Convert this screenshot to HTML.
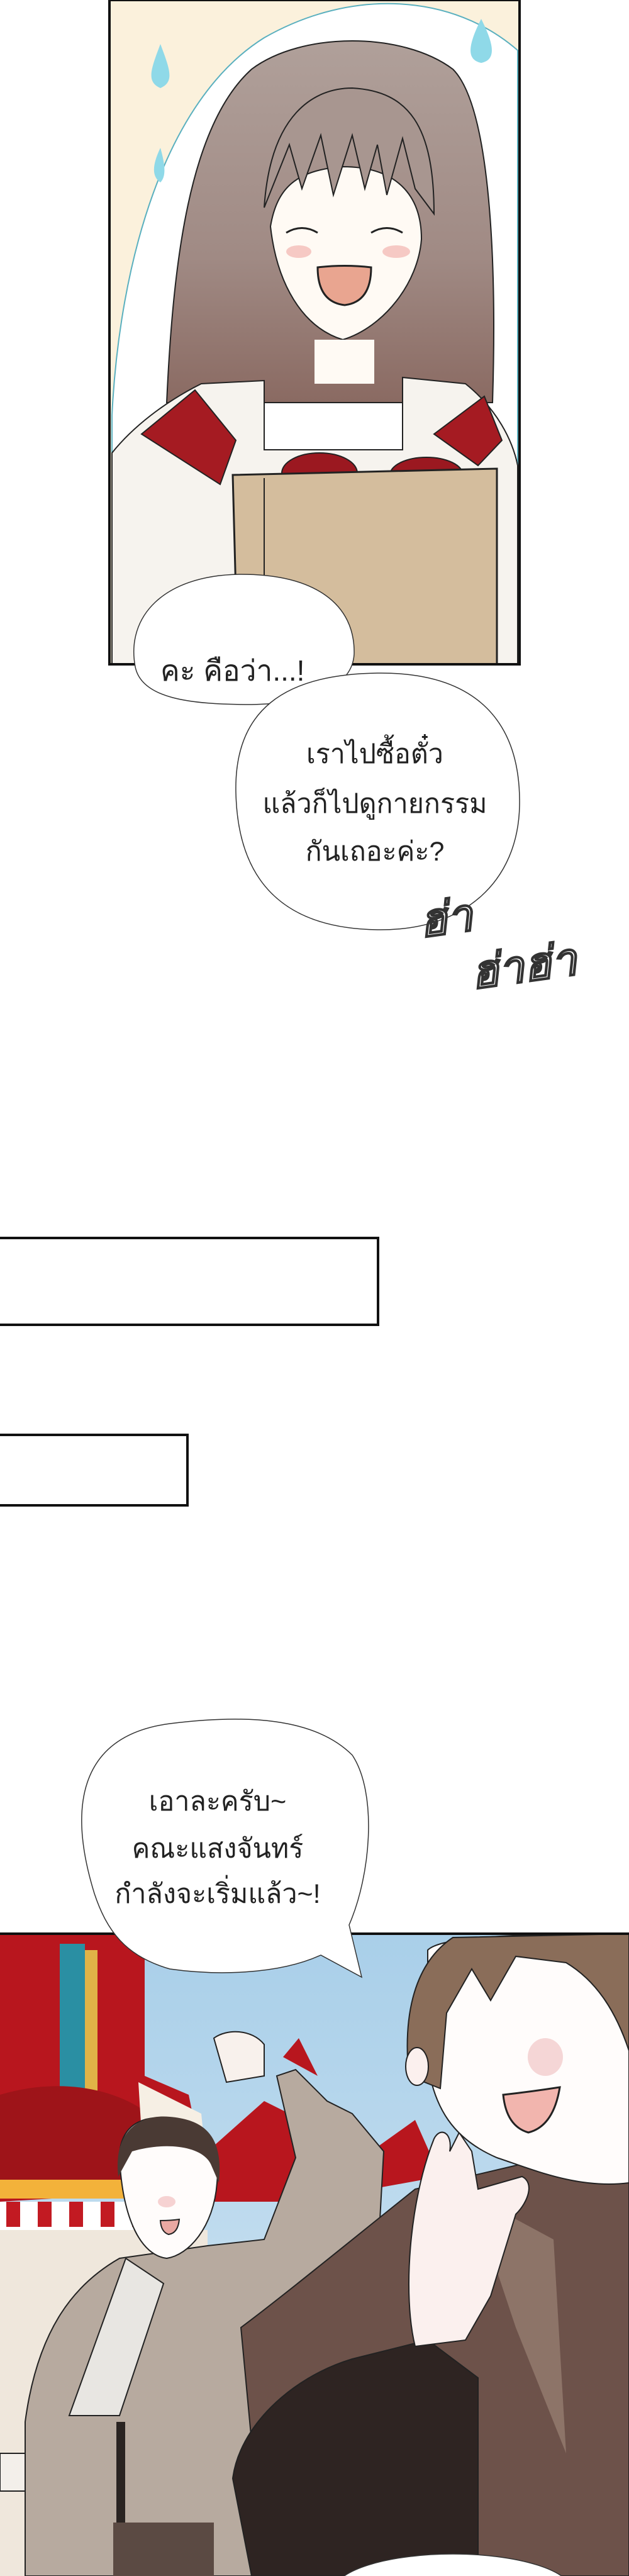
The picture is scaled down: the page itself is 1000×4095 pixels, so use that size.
<!DOCTYPE html>
<html><head><meta charset="utf-8">
<style>
html,body{margin:0;padding:0;background:#fff;}
body{width:1000px;height:4095px;position:relative;overflow:hidden;font-family:"Liberation Sans","Noto Sans CJK SC",sans-serif;}
svg{position:absolute;left:0;top:0;}
.t{font-family:"Liberation Sans","Noto Sans CJK SC",sans-serif;fill:#222;}
</style></head>
<body>
<svg width="1000" height="4095" viewBox="0 0 1000 4095" xmlns="http://www.w3.org/2000/svg">
<defs>
<clipPath id="p1"><rect x="174" y="0" width="652" height="1056"/></clipPath>
<clipPath id="p3"><rect x="0" y="3074" width="1000" height="1021"/></clipPath>
<linearGradient id="hairg" x1="0" y1="0" x2="0" y2="1"><stop offset="0" stop-color="#b0a09a"/><stop offset="0.6" stop-color="#a08a84"/><stop offset="1" stop-color="#8a6a62"/></linearGradient>
<linearGradient id="sky" x1="0" y1="0" x2="0" y2="1"><stop offset="0" stop-color="#a9cfe9"/><stop offset="1" stop-color="#d8e9f4"/></linearGradient>
</defs>
<g clip-path="url(#p1)">
<rect x="174" y="0" width="652" height="1056" fill="#fbf1dc"/>
<path d="M178 660 C190 420 260 160 420 60 C560 -20 720 -10 823 80 L823 1056 L178 1056 Z" fill="#fff" stroke="#5ab0bf" stroke-width="2"/>
<path d="M255 70 C240 110 232 130 255 140 C278 130 270 110 255 70Z" fill="#8fd9e8"/>
<path d="M765 30 C745 70 740 95 765 100 C790 95 785 70 765 30Z" fill="#8fd9e8"/>
<path d="M255 235 C243 260 240 280 255 290 C265 280 262 260 255 235Z" fill="#8fd9e8"/>
<path d="M265 640 C275 420 300 200 400 110 C480 50 640 50 720 110 C780 170 790 420 783 640 Z" fill="url(#hairg)" stroke="#222" stroke-width="2"/>
<path d="M430 360 C440 300 470 270 545 265 C630 265 670 310 670 380 C665 450 610 520 545 540 C480 520 440 450 430 360Z" fill="#fffaf4" stroke="#222" stroke-width="2"/>
<path d="M420 330 C430 180 500 140 560 140 C650 145 690 200 690 340 L660 300 L640 220 L615 310 L600 230 L580 300 L560 215 L530 310 L510 215 L480 300 L460 230 Z" fill="#a89690" stroke="#222" stroke-width="2"/>
<path d="M455 370 Q480 355 505 370" stroke="#222" stroke-width="3" fill="none"/>
<path d="M590 370 Q615 355 640 370" stroke="#222" stroke-width="3" fill="none"/>
<ellipse cx="475" cy="400" rx="20" ry="10" fill="#f6c9c4"/>
<ellipse cx="630" cy="400" rx="22" ry="10" fill="#f6c9c4"/>
<path d="M505 425 Q548 420 590 425 Q590 480 548 485 Q505 480 505 425Z" fill="#e9a590" stroke="#222" stroke-width="3"/>
<path d="M500 540 L500 610 L595 610 L595 540 Z" fill="#fffaf4"/>
<path d="M178 1056 L178 720 C210 680 260 640 320 610 L420 605 L420 715 L640 715 L640 600 L740 610 C790 650 815 700 823 740 L823 1056 Z" fill="#f6f3ee" stroke="#222" stroke-width="2"/>
<path d="M225 690 L310 620 L375 700 L350 770 Z" fill="#a51b22" stroke="#222" stroke-width="2"/>
<path d="M690 690 L770 630 L798 700 L760 740 Z" fill="#a51b22" stroke="#222" stroke-width="2"/>
<ellipse cx="508" cy="752" rx="60" ry="32" fill="#9b1820" stroke="#222" stroke-width="2"/>
<ellipse cx="678" cy="755" rx="58" ry="28" fill="#9b1820" stroke="#222" stroke-width="2"/>
<path d="M370 755 L790 745 L790 1056 L378 1056 Z" fill="#d4bd9d" stroke="#222" stroke-width="3"/>
<line x1="420" y1="760" x2="420" y2="1056" stroke="#222" stroke-width="2"/>
</g>
<rect x="174" y="0" width="652" height="1056" fill="none" stroke="#111" stroke-width="4"/>

<path d="M215 1060 C200 980 260 915 380 913 C500 912 565 960 563 1040 C560 1090 500 1118 400 1120 C300 1120 225 1110 215 1060Z" fill="#fff" stroke="#333" stroke-width="1.5"/>
<text class="t" x="255" y="1082" font-size="46">คะ คือว่า...!</text>
<path d="M375 1260 C372 1130 450 1072 600 1070 C760 1068 828 1150 826 1280 C824 1400 740 1480 600 1478 C450 1476 378 1400 375 1260Z" fill="#fff" stroke="#333" stroke-width="1.5"/>
<text class="t" font-size="43" text-anchor="middle"><tspan x="596" y="1213">เราไปซื้อตั๋ว</tspan><tspan x="596" y="1292">แล้วก็ไปดูกายกรรม</tspan><tspan x="596" y="1368">กันเถอะค่ะ?</tspan></text>
<text x="670" y="1490" font-size="72" font-style="italic" font-weight="bold" fill="#fff" stroke="#333" stroke-width="2" transform="rotate(-8 670 1490)" font-family="Liberation Sans, sans-serif">ฮ่า</text>
<text x="752" y="1572" font-size="72" font-style="italic" font-weight="bold" fill="#fff" stroke="#333" stroke-width="2" transform="rotate(-8 752 1572)" font-family="Liberation Sans, sans-serif">ฮ่าฮ่า</text>

<rect x="-4" y="1968" width="605" height="138" fill="#fff" stroke="#111" stroke-width="4"/>
<rect x="-4" y="2281" width="302" height="112" fill="#fff" stroke="#111" stroke-width="4"/>

<g clip-path="url(#p3)">
<rect x="0" y="3074" width="1000" height="1021" fill="url(#sky)"/>
<path d="M0 3074 L230 3074 L230 3300 L300 3330 L330 3480 L0 3500 Z" fill="#b8161e"/>
<rect x="95" y="3090" width="40" height="280" fill="#2a8fa3"/>
<rect x="135" y="3100" width="20" height="300" fill="#e0b347"/>
<path d="M0 3330 C100 3300 200 3320 260 3380 L260 3470 L0 3470 Z" fill="#9e1419"/>
<rect x="0" y="3465" width="260" height="30" fill="#f3b23a"/>
<path d="M0 3500 L300 3500 L300 3545 L0 3545 Z" fill="#fff"/>
<g fill="#c21a22"><rect x="10" y="3500" width="22" height="40"/><rect x="60" y="3500" width="22" height="40"/><rect x="110" y="3500" width="22" height="40"/><rect x="160" y="3500" width="22" height="40"/><rect x="210" y="3500" width="22" height="40"/></g>
<rect x="0" y="3545" width="330" height="550" fill="#efe7dc"/>
<path d="M330 3420 L420 3340 L500 3380 L560 3420 L560 3500 L330 3500 Z" fill="#b8161e"/>
<path d="M450 3270 L475 3240 L505 3300 Z" fill="#b8161e"/>
<path d="M590 3420 L660 3370 L700 3460 L590 3480 Z" fill="#b8161e"/>
<path d="M220 3310 L320 3360 L330 3460 L230 3470 Z" fill="#f6efe4"/>
<path d="M40 4095 L40 3850 C60 3700 120 3630 190 3590 L330 3570 L420 3560 L470 3430 L440 3300 L470 3290 L520 3340 L560 3360 L610 3420 L600 3600 L540 3750 L520 4095 Z" fill="#b7aa9f" stroke="#222" stroke-width="2"/>
<path d="M110 3840 L200 3590 L260 3630 L190 3840 Z" fill="#e8e6e2" stroke="#222" stroke-width="2"/>
<rect x="185" y="3850" width="14" height="160" fill="#2a2422"/>
<path d="M180 4010 L340 4010 L340 4095 L180 4095 Z" fill="#5b4a43"/>
<path d="M340 3240 C360 3225 400 3225 420 3250 L420 3300 L360 3310 Z" fill="#f8f1ec" stroke="#222" stroke-width="2"/>
<path d="M0 3900 L40 3900 L40 3960 L0 3960 Z" fill="#f3efea" stroke="#222" stroke-width="2"/>
<path d="M190 3430 C190 3370 240 3360 275 3370 C330 3380 350 3420 345 3470 C340 3540 300 3585 265 3590 C225 3585 195 3530 190 3430Z" fill="#fffcfb" stroke="#222" stroke-width="2"/>
<path d="M188 3460 C180 3390 220 3360 270 3365 C330 3370 355 3400 348 3470 L335 3440 C320 3410 260 3405 210 3420 Z" fill="#4a3a34"/>
<ellipse cx="265" cy="3500" rx="14" ry="9" fill="#f6d2d2"/>
<path d="M255 3530 Q272 3530 285 3528 Q283 3550 268 3552 Q256 3548 255 3530Z" fill="#e9a8a2" stroke="#222" stroke-width="2"/>
<path d="M383 3700 C450 3650 560 3560 660 3480 L1000 3400 L1000 4095 L420 4095 Z" fill="#6d524a" stroke="#222" stroke-width="2"/>
<path d="M750 3490 L880 3560 L900 3900 L820 3700 Z" fill="#8d7468"/>
<path d="M370 3940 C380 3860 460 3780 560 3750 L680 3720 L760 3780 L760 4095 L400 4095 Z" fill="#2e2422" stroke="#222" stroke-width="2"/>
<path d="M660 3730 C640 3650 650 3500 690 3400 C700 3380 720 3390 715 3420 L730 3390 L750 3420 L760 3480 L830 3460 C850 3470 840 3500 820 3520 L780 3650 L740 3720 Z" fill="#fbf0ee" stroke="#222" stroke-width="2"/>
<path d="M680 3100 C700 3080 800 3074 1000 3074 L1000 3470 C920 3480 850 3450 790 3430 C720 3400 690 3350 680 3280 Z" fill="#fffcfb" stroke="#222" stroke-width="2"/>
<path d="M650 3300 C640 3200 660 3120 720 3080 L1000 3074 L1000 3260 C980 3200 950 3150 900 3120 L820 3110 L780 3180 L750 3130 L710 3200 L700 3320 Z" fill="#8a6d59" stroke="#222" stroke-width="2"/>
<ellipse cx="663" cy="3285" rx="18" ry="30" fill="#fbf0ee" stroke="#222" stroke-width="2"/>
<ellipse cx="867" cy="3270" rx="28" ry="30" fill="#f5d6d6"/>
<path d="M800 3330 Q845 3325 890 3318 Q880 3380 840 3390 Q805 3380 800 3330Z" fill="#f2b5ae" stroke="#222" stroke-width="3"/>
<ellipse cx="720" cy="4120" rx="190" ry="60" fill="#fff" stroke="#333" stroke-width="1.5"/>
</g>
<line x1="0" y1="3074" x2="1000" y2="3074" stroke="#111" stroke-width="4"/>

<path d="M150 3010 C110 2880 120 2760 270 2740 C390 2725 500 2730 560 2790 C600 2850 590 2980 555 3060 L575 3143 L510 3108 C440 3140 340 3140 270 3130 C200 3110 170 3070 150 3010Z" fill="#fff" stroke="#333" stroke-width="1.5"/>
<text class="t" font-size="43" text-anchor="middle"><tspan x="346" y="2878">เอาละครับ~</tspan><tspan x="346" y="2953">คณะแสงจันทร์</tspan><tspan x="346" y="3025">กำลังจะเริ่มแล้ว~!</tspan></text>
</svg>
</body></html>
